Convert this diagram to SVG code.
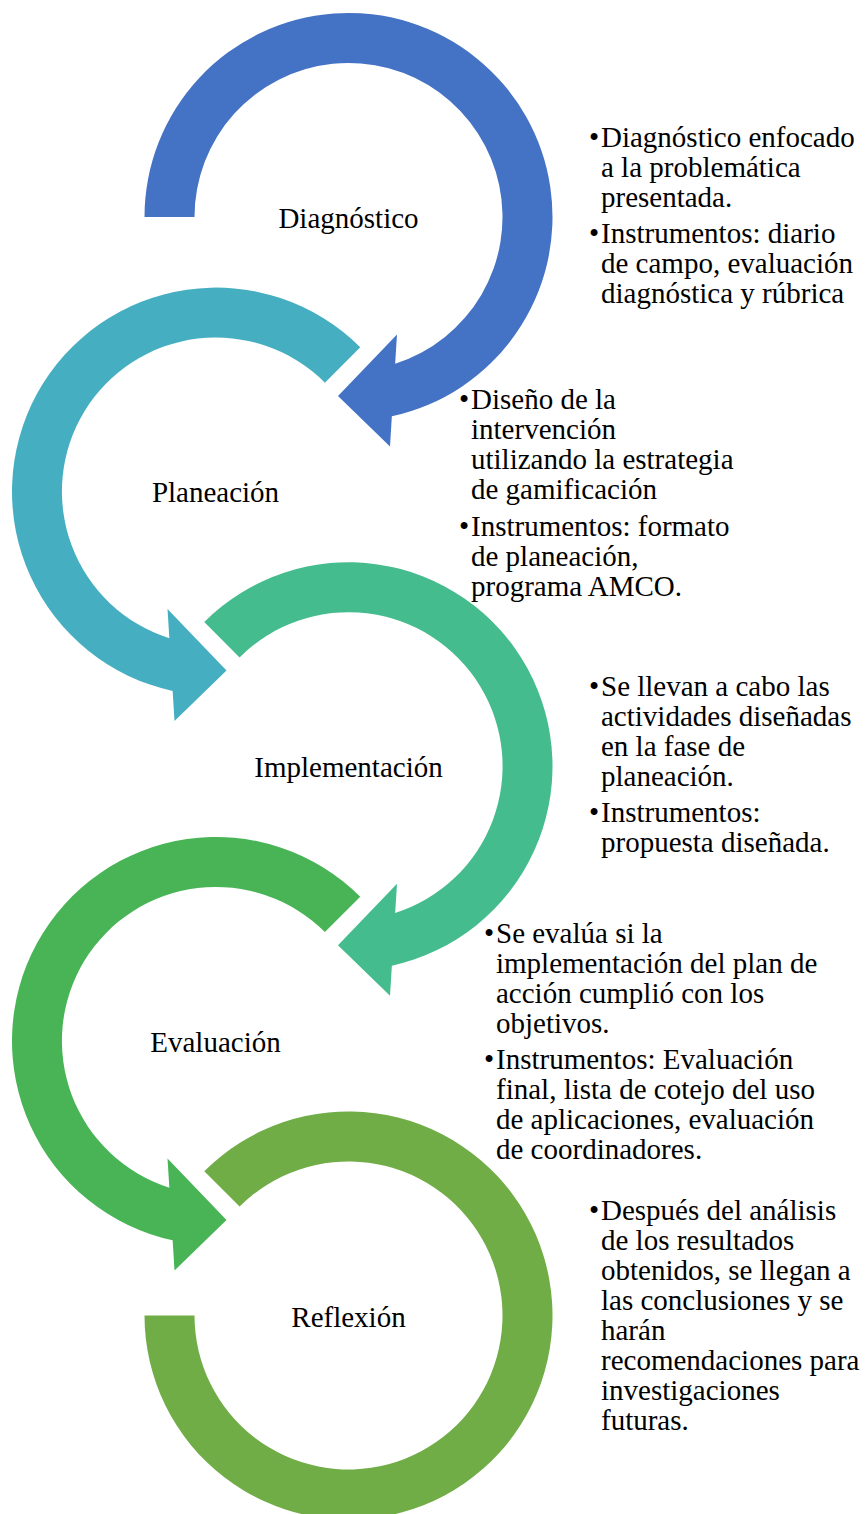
<svg xmlns="http://www.w3.org/2000/svg" width="866" height="1514" viewBox="0 0 866 1514">
  <style>
    text { font-family: "Liberation Serif", "Times New Roman", serif; font-size: 29px; fill: #000; }
    .lbl { text-anchor: middle; }
  </style>
  <defs>
    <path id="arcStart" d="M -204,0 A 204 204 0 1 1 43.35,199.34 L 41.5,229.5 L -10.5,179 L 48.5,117.5 L 46.65,146.7 A 154 154 0 1 0 -154,0 Z"/>
    <path id="arcMid" d="M -144.25,-144.25 A 204 204 0 1 1 43.35,199.34 L 41.5,229.5 L -10.5,179 L 48.5,117.5 L 46.65,146.7 A 154 154 0 1 0 -108.9,-108.9 Z"/>
    <path id="arcEnd" d="M -144.25,-144.25 A 204 204 0 1 1 -204,0 L -154,0 A 154 154 0 1 0 -108.9,-108.9 Z"/>
  </defs>

  <g id="node-diagnostico">
    <use href="#arcStart" transform="translate(348.5,217)" fill="#4472C4"/>
    <text class="lbl" x="348.5" y="227.5">Diagnóstico</text>
    <text><tspan x="589" y="147">•</tspan><tspan x="601" y="147">Diagnóstico enfocado</tspan><tspan x="601" y="177">a la problemática</tspan><tspan x="601" y="207">presentada.</tspan><tspan x="589" y="243">•</tspan><tspan x="601" y="243">Instrumentos: diario</tspan><tspan x="601" y="273">de campo, evaluación</tspan><tspan x="601" y="303">diagnóstica y rúbrica</tspan></text>
  </g>

  <g id="node-planeacion">
    <use href="#arcMid" transform="translate(216,491.6) scale(-1,1)" fill="#46AEC1"/>
    <text class="lbl" x="215.5" y="502.3">Planeación</text>
    <text><tspan x="459" y="409">•</tspan><tspan x="471" y="409">Diseño de la</tspan><tspan x="471" y="439">intervención</tspan><tspan x="471" y="469">utilizando la estrategia</tspan><tspan x="471" y="499">de gamificación</tspan><tspan x="459" y="536">•</tspan><tspan x="471" y="536">Instrumentos: formato</tspan><tspan x="471" y="566">de planeación,</tspan><tspan x="471" y="596">programa AMCO.</tspan></text>
  </g>

  <g id="node-implementacion">
    <use href="#arcMid" transform="translate(348.5,766.3)" fill="#45BC8D"/>
    <text class="lbl" x="348.5" y="777">Implementación</text>
    <text><tspan x="589" y="696">•</tspan><tspan x="601" y="696">Se llevan a cabo las</tspan><tspan x="601" y="726">actividades diseñadas</tspan><tspan x="601" y="756">en la fase de</tspan><tspan x="601" y="786">planeación.</tspan><tspan x="589" y="822">•</tspan><tspan x="601" y="822">Instrumentos:</tspan><tspan x="601" y="852">propuesta diseñada.</tspan></text>
  </g>

  <g id="node-evaluacion">
    <use href="#arcMid" transform="translate(216,1041) scale(-1,1)" fill="#48B455"/>
    <text class="lbl" x="215.5" y="1051.8">Evaluación</text>
    <text><tspan x="484" y="943">•</tspan><tspan x="496" y="943">Se evalúa si la</tspan><tspan x="496" y="973">implementación del plan de</tspan><tspan x="496" y="1003">acción cumplió con los</tspan><tspan x="496" y="1033">objetivos.</tspan><tspan x="484" y="1069">•</tspan><tspan x="496" y="1069">Instrumentos: Evaluación</tspan><tspan x="496" y="1099">final, lista de cotejo del uso</tspan><tspan x="496" y="1129">de aplicaciones, evaluación</tspan><tspan x="496" y="1159">de coordinadores.</tspan></text>
  </g>

  <g id="node-reflexion">
    <use href="#arcEnd" transform="translate(348.5,1315.5)" fill="#70AD47"/>
    <text class="lbl" x="348.5" y="1326.5">Reflexión</text>
    <text><tspan x="589" y="1220">•</tspan><tspan x="601" y="1220">Después del análisis</tspan><tspan x="601" y="1250">de los resultados</tspan><tspan x="601" y="1280">obtenidos, se llegan a</tspan><tspan x="601" y="1310">las conclusiones y se</tspan><tspan x="601" y="1340">harán</tspan><tspan x="601" y="1370">recomendaciones para</tspan><tspan x="601" y="1400">investigaciones</tspan><tspan x="601" y="1430">futuras.</tspan></text>
  </g>

  <g id="connectors"/>
</svg>
